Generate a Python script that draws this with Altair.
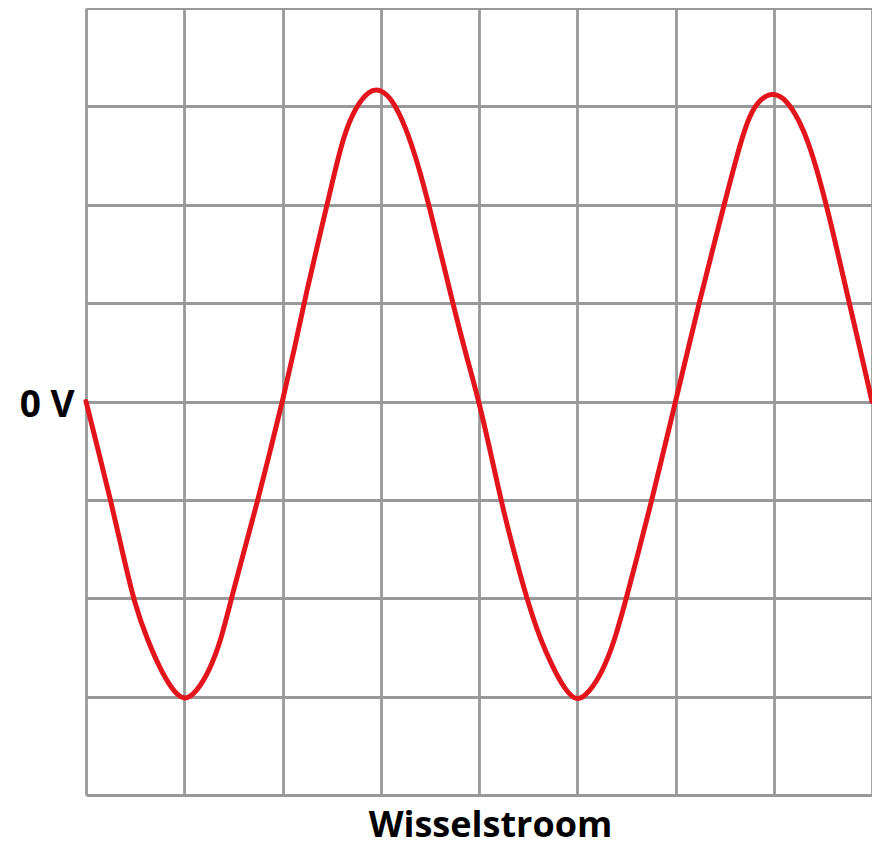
import altair as alt
import pandas as pd

# Waveform (x and y in grid divisions)
t_div = [0, 0.125, 0.25, 0.375, 0.5, 0.625, 0.75, 0.875,
         1.0, 1.125, 1.25, 1.375, 1.5, 1.625, 1.75, 1.875,
         2.0, 2.125, 2.25, 2.375, 2.5, 2.625, 2.75, 2.875,
         3.0, 3.125, 3.25, 3.375, 3.5, 3.625, 3.75, 3.875,
         4.0, 4.125, 4.25, 4.375, 4.5, 4.625, 4.75, 4.875,
         5.0, 5.125, 5.25, 5.375, 5.5, 5.625, 5.75, 5.875,
         6.0, 6.125, 6.25, 6.375, 6.5, 6.625, 6.75, 6.875,
         7.0, 7.125, 7.25, 7.375, 7.5, 7.625, 7.75, 7.875, 8.0]
v_div = [0, -0.5, -1.0, -1.55, -2.08, -2.42, -2.71, -2.93,
         -3.05, -2.95, -2.75, -2.43, -1.92, -1.46, -1.0, -0.5,
         0, 0.55, 1.14, 1.67, 2.2, 2.72, 3.0, 3.16,
         3.18, 3.06, 2.8, 2.43, 1.96, 1.45, 0.93, 0.45,
         0, -0.55, -1.12, -1.6, -2.05, -2.42, -2.7, -2.93,
         -3.06, -2.95, -2.76, -2.45, -2.0, -1.52, -1.04, -0.52,
         0, 0.52, 1.04, 1.53, 2.02, 2.5, 2.92, 3.09,
         3.14, 3.07, 2.88, 2.58, 2.14, 1.63, 1.08, 0.55, 0]

x_grid = [0, 1, 2, 3, 4, 5, 6, 7, 8]
y_grid = [-4, -3, -2, -1, 0, 1, 2, 3, 4]
zero_label = "0 V"
x_title = "Wisselstroom"

df = pd.DataFrame({"t": t_div, "v": v_div})

chart = alt.Chart(df).mark_line(
    color="#e3141b", strokeWidth=5, interpolate="basis", strokeCap="round",
    strokeJoin="round"
).encode(
    x=alt.X("t:Q", scale=alt.Scale(domain=[0, 8], nice=False, zero=False),
            axis=alt.Axis(values=x_grid, grid=True, gridColor="#999999", gridWidth=2.8,
                          gridOpacity=1, labels=False, ticks=False, domain=False,
                          title=x_title, titleFont="Open Sans", titleFontSize=36,
                          titleFontWeight="bold", titleColor="#000000",
                          titleX=404, titleY=41, titleAlign="center",
                          titleBaseline="alphabetic")),
    y=alt.Y("v:Q", scale=alt.Scale(domain=[-4, 4], nice=False, zero=False),
            axis=alt.Axis(values=y_grid, grid=True, gridColor="#999999", gridWidth=2.8,
                          gridOpacity=1, ticks=False, domain=False, title=None,
                          labelExpr=f"datum.value == 0 ? '{zero_label}' : ''",
                          labelFont="Open Sans", labelFontSize=37, labelFontWeight="bold",
                          labelColor="#000000", labelPadding=12, labelOffset=4)),
).properties(
    width=786, height=787,
    autosize=alt.AutoSizeParams(type="none"),
    padding={"left": 78, "top": 0, "right": 0, "bottom": 53},
).configure_view(strokeWidth=0)

chart.save("out.html", embed_options={"renderer": "svg", "actions": False})
